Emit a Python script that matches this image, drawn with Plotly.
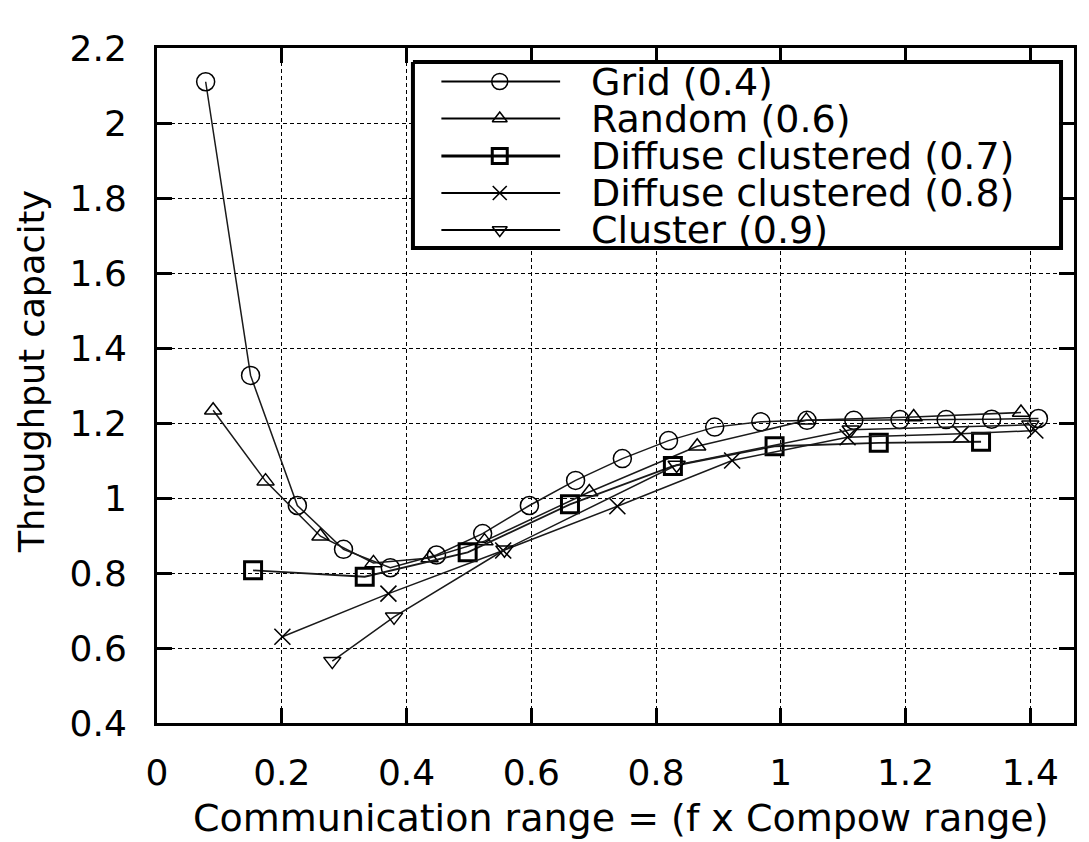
import plotly.graph_objects as go

# ---- data ----
grid_x = [0.078, 0.150, 0.225, 0.299, 0.374, 0.448, 0.522, 0.597, 0.671, 0.746,
          0.820, 0.894, 0.968, 1.042, 1.117, 1.191, 1.265, 1.338, 1.413]
grid_y = [2.11, 1.327, 0.98, 0.863, 0.814, 0.848, 0.905, 0.98, 1.047, 1.105,
          1.153, 1.189, 1.203, 1.207, 1.207, 1.209, 1.209, 1.21, 1.212]

random_x = [0.090, 0.174, 0.262, 0.347, 0.437, 0.525, 0.693, 0.866, 1.041, 1.213, 1.385]
random_y = [1.234, 1.045, 0.898, 0.827, 0.84, 0.885, 1.016, 1.138, 1.207, 1.216, 1.228]

diffuse7_x = [0.154, 0.333, 0.498, 0.662, 0.827, 0.990, 1.157, 1.321]
diffuse7_y = [0.807, 0.790, 0.855, 0.983, 1.085, 1.138, 1.147, 1.150]

diffuse8_x = [0.201, 0.371, 0.555, 0.738, 0.922, 1.107, 1.289, 1.408]
diffuse8_y = [0.630, 0.745, 0.860, 0.978, 1.100, 1.162, 1.171, 1.180]

cluster_x = [0.281, 0.380, 0.557, 0.833, 1.112, 1.400]
cluster_y = [0.565, 0.683, 0.862, 1.088, 1.182, 1.195]

series_names = ["Grid (0.4)", "Random (0.6)", "Diffuse clustered (0.7)",
                "Diffuse clustered (0.8)", "Cluster (0.9)"]
x_ticks = [0, 0.2, 0.4, 0.6, 0.8, 1.0, 1.2, 1.4]
y_ticks = [0.4, 0.6, 0.8, 1.0, 1.2, 1.4, 1.6, 1.8, 2.0, 2.2]
x_title = "Communication range = (f x Compow range)"
y_title = "Throughput capacity"

# ---- styles ----
FONT = "DejaVu Sans"
LINE_C = "#1a1a1a"
styles = [
    dict(symbol="circle-open", size=18, lw=1.5, mlw=1.5),
    dict(symbol="triangle-up-open", size=15, lw=1.5, mlw=1.5),
    dict(symbol="square-open", size=17, lw=1.8, mlw=3),
    dict(symbol="x-thin-open", size=16, lw=1.5, mlw=1.6),
    dict(symbol="triangle-down-open", size=15, lw=1.5, mlw=1.5),
]
data = [(grid_x, grid_y), (random_x, random_y), (diffuse7_x, diffuse7_y),
        (diffuse8_x, diffuse8_y), (cluster_x, cluster_y)]

fig = go.Figure()
for (xs, ys), name, st in zip(data, series_names, styles):
    fig.add_trace(go.Scatter(
        x=xs, y=ys, name=name, mode="lines+markers",
        line=dict(color=LINE_C, width=st["lw"]),
        marker=dict(symbol=st["symbol"], size=st["size"], color="black",
                    line=dict(color="black", width=st["mlw"])),
        showlegend=False, cliponaxis=False,
    ))

# ---- custom legend (pixel-like overlay axes) ----
L, R, T, B = 157, 1076, 48, 723
bx0, bx1, by0, by1 = 413.5, 1063, 62, 248
fig.add_trace(go.Scatter(x=[bx0, bx1, bx1, bx0, bx0], y=[by0, by0, by1, by1, by0],
                         mode="lines", fill="toself", fillcolor="white",
                         line=dict(color="black", width=4),
                         xaxis="x2", yaxis="y2", showlegend=False, hoverinfo="skip"))
row_y = [81.5, 118.5, 156, 193, 230]
for name, st, yy in zip(series_names, styles, row_y):
    fig.add_trace(go.Scatter(x=[442, 561], y=[yy, yy], mode="lines",
                             line=dict(color="black", width=3 if "0.7" in name else 2.2),
                             xaxis="x2", yaxis="y2", showlegend=False, hoverinfo="skip"))
    fig.add_trace(go.Scatter(x=[500.5], y=[yy], mode="markers",
                             marker=dict(symbol=st["symbol"], size=st["size"] - 2,
                                         color="black",
                                         line=dict(color="black", width=st["mlw"])),
                             xaxis="x2", yaxis="y2", showlegend=False, hoverinfo="skip"))
    fig.add_annotation(x=590, y=yy, xref="x2", yref="y2", text=name, showarrow=False,
                       xanchor="left", yanchor="middle",
                       font=dict(family=FONT, size=38, color="black"))

axis_common = dict(showline=True, linecolor="black", linewidth=3, mirror="ticks",
                   ticks="inside", ticklen=15, tickwidth=3, tickcolor="black",
                   showgrid=True, gridcolor="black", gridwidth=1, griddash="4px,3px",
                   zeroline=False, tickfont=dict(family=FONT, size=36, color="black"))

fig.update_layout(
    width=1089, height=842,
    margin=dict(l=L, r=1089 - R, t=T, b=842 - B),
    paper_bgcolor="white", plot_bgcolor="white",
    showlegend=False,
    xaxis=dict(range=[0, 1.47], tickvals=x_ticks, ticklabelstandoff=16, **axis_common),
    yaxis=dict(range=[0.4, 2.2], tickvals=y_ticks, ticklabelstandoff=20, **axis_common),
    xaxis2=dict(overlaying="x", range=[L, R], visible=False),
    yaxis2=dict(overlaying="y", range=[B, T], visible=False),
)

fig.add_annotation(x=(622 - L) / (R - L), y=(B - 818) / (B - T), xref="paper", yref="paper",
                   text=x_title, showarrow=False, xanchor="center", yanchor="middle",
                   font=dict(family=FONT, size=38, color="black"))
fig.add_annotation(x=(32 - L) / (R - L), y=(B - 372) / (B - T), xref="paper", yref="paper",
                   text=y_title, showarrow=False, textangle=-90, xanchor="center", yanchor="middle",
                   font=dict(family=FONT, size=35, color="black"))

fig.write_html("out.html", config={"displayModeBar": False},
               post_script="document.body.style.margin='0';")
